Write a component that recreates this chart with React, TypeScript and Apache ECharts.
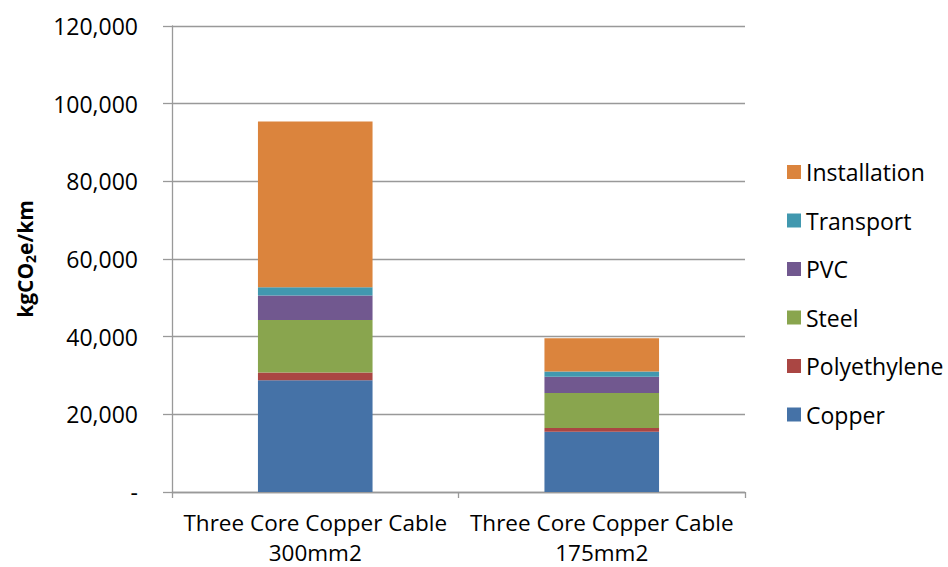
import React, { useEffect, useRef } from "react";
import * as echarts from "echarts";

const categories = ["Three Core Copper Cable\n300mm2", "Three Core Copper Cable\n175mm2"];
const copper = [28800, 15500];
const polyethylene = [2000, 1000];
const steel = [13500, 9000];
const pvc = [6300, 4200];
const transport = [2100, 1300];
const installation = [42700, 8600];

const seriesNames = ["Copper", "Polyethylene", "Steel", "PVC", "Transport", "Installation"];
const seriesValues = [copper, polyethylene, steel, pvc, transport, installation];
const seriesColors = ["#4572A7", "#AA4643", "#89A54E", "#71588F", "#4198AF", "#DB843D"];

const FONT = "'Open Sans', sans-serif";

export default function App() {
  const ref = useRef<HTMLDivElement>(null);

  useEffect(() => {
    if (!ref.current) return;
    const chart = echarts.init(ref.current, undefined, { renderer: "svg" });
    chart.setOption({
      animation: false,
      backgroundColor: "#ffffff",
      textStyle: { fontFamily: FONT },
      grid: { left: 172, right: 203, top: 26, bottom: 75, containLabel: false },
      legend: {
        orient: "vertical",
        left: 782,
        top: 155,
        itemWidth: 14,
        itemHeight: 14,
        itemGap: 24.5,
        icon: "rect",
        data: [...seriesNames].reverse(),
        textStyle: { fontFamily: FONT, fontSize: 23, color: "#000", lineHeight: 24 },
      },
      xAxis: {
        type: "category",
        data: categories,
        axisLine: { show: true, lineStyle: { color: "#999", width: 1.3 } },
        axisTick: { show: true, length: 6, interval: 0, lineStyle: { color: "#999", width: 1.3 } },
        axisLabel: {
          interval: 0,
          margin: 15,
          color: "#000",
          align: "center",
          formatter: (v: string) =>
            v
              .split("\n")
              .map((line) => `{l|${line}}`)
              .join("\n"),
          rich: {
            l: { fontFamily: FONT, fontSize: 22.5, lineHeight: 30, color: "#000" },
          },
        },
      },
      yAxis: {
        type: "value",
        min: 0,
        max: 120000,
        interval: 20000,
        axisLine: { show: true, lineStyle: { color: "#999", width: 1.3 } },
        axisTick: { show: true, length: 9, lineStyle: { color: "#999", width: 1.3 } },
        splitLine: { show: true, lineStyle: { color: "#999", width: 1.3 } },
        axisLabel: {
          margin: 34,
          fontFamily: FONT,
          fontSize: 23,
          color: "#000",
          formatter: (v: number) => (v === 0 ? "-" : v.toLocaleString("en-US")),
        },
      },
      graphic: [
        {
          type: "text",
          x: 25,
          y: 259,
          rotation: Math.PI / 2,
          style: {
            text: "{a|kgCO}{s|2}{a|e/km}",
            align: "center",
            verticalAlign: "middle",
            fill: "#000",
            rich: {
              a: { fontFamily: FONT, fontSize: 21, fontWeight: "bold", fill: "#000" },
              s: { fontFamily: FONT, fontSize: 14, fontWeight: "bold", fill: "#000", padding: [10, 0, 0, 0] },
            },
          },
        },
      ],
      series: seriesNames.map((name, i) => ({
        name,
        type: "bar",
        stack: "total",
        barCategoryGap: "60%",
        data: seriesValues[i],
        itemStyle: { color: seriesColors[i] },
      })),
    });
    return () => chart.dispose();
  }, []);

  return <div ref={ref} style={{ width: 948, height: 567, position: "absolute", left: 0, top: 0 }} />;
}
